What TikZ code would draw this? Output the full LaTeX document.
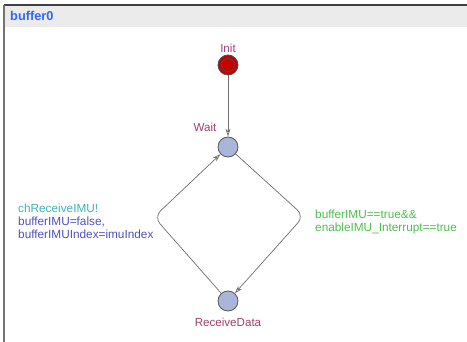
\documentclass[tikz,border=0pt]{standalone}
\usepackage{fontspec}
\setmainfont{Liberation Sans}
\usetikzlibrary{arrows.meta}

\definecolor{locname}{HTML}{A0406E}
\definecolor{locfill}{HTML}{A9B5D9}
\definecolor{initfill}{HTML}{C80000}
\definecolor{syncol}{HTML}{3FB3B3}
\definecolor{assigncol}{HTML}{4F4FC0}
\definecolor{guardcol}{HTML}{4CC04C}
\definecolor{tplname}{HTML}{3366FF}
\definecolor{edgecol}{HTML}{6E6E6E}

\begin{document}
\begin{tikzpicture}[x=1pt, y=-1pt,
    loc/.style={circle, draw=black!65, fill=locfill, minimum size=20pt, inner sep=0pt, line width=0.8pt},
    locname/.style={text=locname, font=\fontsize{11.6}{13}\selectfont, inner sep=0pt, anchor=base},
    guard/.style={text=guardcol, font=\fontsize{11.8}{13}\selectfont, align=left, anchor=base west, inner sep=0pt},
    arrow/.style={-{Stealth[length=8pt, width=5pt, open]}, draw=edgecol, line width=0.7pt, rounded corners=9pt}
]
\useasboundingbox (0,0) rectangle (467,342);

% template frame
\fill[black!8] (5,6) rectangle (467,27);
\draw[black!75, line width=1.6pt] (4,5) -- (467,5);
\draw[black!55, line width=1.6pt] (4,5) -- (4,342);
\node[anchor=base west, text=tplname, font=\bfseries\fontsize{12.8}{14}\selectfont, inner sep=0pt] (tpl) at (10,21) {buffer0};

% locations
\node[loc, fill=initfill, draw=black!70] (init) at (228,65) {};
\draw[black!70, line width=0.7pt] (init.center) circle (6.5);
\node[loc] (wait) at (228,147) {};
\node[loc] (recv) at (228,301) {};

\node[locname] (initname) at (228,53) {Init};
\node[locname] (waitname) at (205,132) {Wait};
\node[locname] (recvname) at (228,327) {ReceiveData};

% edges
\draw[arrow] (init) -- (wait);
\draw[arrow] (wait) -- (304,216) -- (recv);
\draw[arrow] (recv) -- (154,217) -- (wait);

% edge labels (base = last line)
\node[guard, text=syncol] (sync) at (18,213) {chReceiveIMU!};
\node[guard, text=assigncol] (assign) at (18,239) {bufferIMU=false,\\bufferIMUIndex=imuIndex};
\node[guard] (grd) at (315,232) {bufferIMU==true\&\&\\enableIMU\_Interrupt==true};
\end{tikzpicture}
\end{document}
